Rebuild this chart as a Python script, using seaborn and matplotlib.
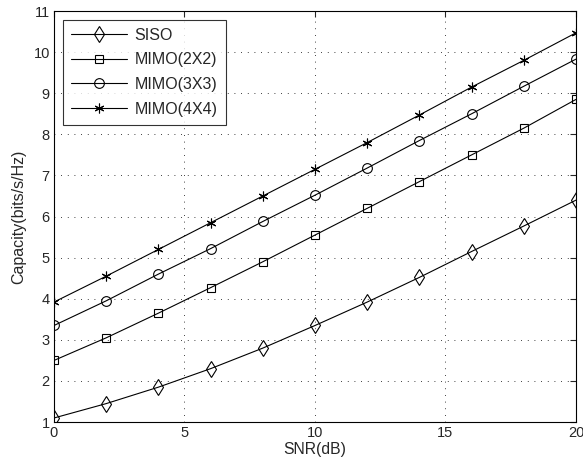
import matplotlib
matplotlib.use("Agg")
import matplotlib.pyplot as plt
import pandas as pd
import seaborn as sns

SNR_DB = [0, 2, 4, 6, 8, 10, 12, 14, 16, 18, 20]
SISO = [1.1, 1.45, 1.85, 2.3, 2.8, 3.35, 3.92, 4.52, 5.15, 5.77, 6.4]
MIMO_2X2 = [2.5, 3.05, 3.65, 4.27, 4.9, 5.55, 6.2, 6.85, 7.5, 8.15, 8.85]
MIMO_3X3 = [3.35, 3.95, 4.6, 5.22, 5.88, 6.52, 7.18, 7.85, 8.5, 9.17, 9.83]
MIMO_4X4 = [3.92, 4.55, 5.2, 5.85, 6.5, 7.15, 7.8, 8.47, 9.15, 9.8, 10.47]

SERIES = {
    "SISO": SISO,
    "MIMO(2X2)": MIMO_2X2,
    "MIMO(3X3)": MIMO_3X3,
    "MIMO(4X4)": MIMO_4X4,
}
MARKERS = {"SISO": "d", "MIMO(2X2)": "s", "MIMO(3X3)": "o", "MIMO(4X4)": (6, 2, 0)}
MARKER_SIZES = {"SISO": 8, "MIMO(2X2)": 6, "MIMO(3X3)": 7, "MIMO(4X4)": 7}

rows = []
for name, values in SERIES.items():
    for snr, cap in zip(SNR_DB, values):
        rows.append({"snr": snr, "capacity": cap, "scheme": name})
df = pd.DataFrame(rows)

sns.set_style("white")
plt.rcParams["font.family"] = ["Liberation Sans", "DejaVu Sans"]

fig = plt.figure(figsize=(5.83, 4.69), dpi=100)
ax = fig.add_axes([0.0926, 0.1, 0.8954, 0.8765])

for name in SERIES:
    sub = df[df["scheme"] == name]
    sns.lineplot(
        data=sub, x="snr", y="capacity", ax=ax, color="black", linewidth=0.8,
        marker=MARKERS[name], markersize=MARKER_SIZES[name],
        markerfacecolor="none", markeredgecolor="black", markeredgewidth=0.8,
        label=name,
    )

ax.set_xlim(0, 20)
ax.set_ylim(1, 11)
ax.set_xticks([0, 5, 10, 15, 20])
ax.set_yticks(range(1, 12))
# matlab style dotted grid
ax.grid(True, linestyle=(0, (1, 7)), color="black", linewidth=0.6)
ax.tick_params(direction="in", length=4, labelsize=10.5, top=True, right=True, pad=3)
for spine in ax.spines.values():
    spine.set_color("black")
    spine.set_linewidth(0.8)
ax.set_xlabel("SNR(dB)", fontsize=11.3, labelpad=1)
ax.set_ylabel("Capacity(bits/s/Hz)", fontsize=11.5, labelpad=5)

leg = ax.legend(loc="upper left", fontsize=11.5, frameon=True, fancybox=False,
                edgecolor="black", handlelength=3.5, borderpad=0.5,
                labelspacing=0.6, handletextpad=0.5,
                bbox_to_anchor=(0.0, 1.0), borderaxespad=0.55)
leg.get_frame().set_linewidth(0.8)

fig.savefig("out.png", dpi=100)
